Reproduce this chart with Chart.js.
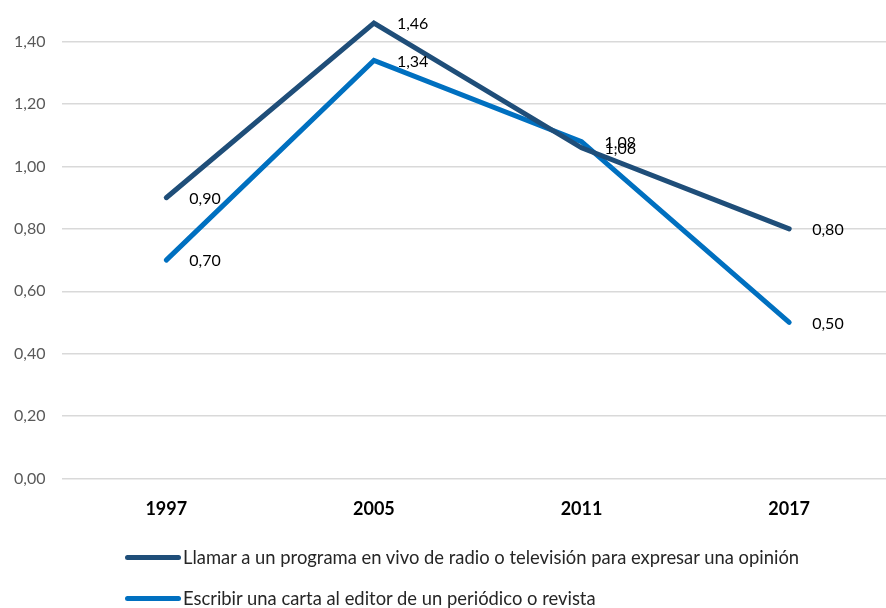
<!DOCTYPE html>
<html>
<head>
<meta charset="utf-8">
<script src="https://cdn.jsdelivr.net/npm/chart.js@4"></script>
<style>
  html, body { margin: 0; padding: 0; background: #fff; overflow: hidden; }
  #wrap { position: relative; width: 894px; height: 608px; overflow: hidden; }
  #lineChart { position: absolute; left: -3px; top: -16px; }
  #legend { position: absolute; left: 125px; top: 546px; font-family: Lato, sans-serif; font-size: 18.4px; color: #262626; }
  #legend div { display: flex; align-items: center; height: 22px; margin-bottom: 19px; white-space: nowrap; }
  #legend span.sw { display: inline-block; width: 56px; height: 5px; border-radius: 3px; margin-right: 2px; }
</style>
</head>
<body>
<div id="wrap">
  <canvas id="lineChart" width="896" height="628"></canvas>
  <div id="legend"></div>
</div>
<script>
// years and the two participation series
const years = ['1997', '2005', '2011', '2017'];
const llamarPrograma = [0.90, 1.46, 1.06, 0.80];
const escribirCarta = [0.70, 1.34, 1.08, 0.50];
const seriesNames = [
  'Llamar a un programa en vivo de radio o televisión para expresar una opinión',
  'Escribir una carta al editor de un periódico o revista'
];
const seriesColors = ['#1F4E79', '#0070C0'];

const fmt = v => v.toFixed(2).replace('.', ',');

// value labels to the right of each point
const pointLabels = {
  id: 'pointLabels',
  afterDatasetsDraw(chart) {
    const ctx = chart.ctx;
    ctx.save();
    ctx.font = '16px Lato, sans-serif';
    ctx.fillStyle = '#000';
    ctx.textAlign = 'left';
    ctx.textBaseline = 'middle';
    chart.data.datasets.forEach((ds, i) => {
      chart.getDatasetMeta(i).data.forEach((pt, j) => {
        ctx.fillText(fmt(ds.data[j]), pt.x + 23, pt.y + 1);
      });
    });
    ctx.restore();
  }
};

new Chart(document.getElementById('lineChart'), {
  type: 'line',
  data: {
    labels: years,
    datasets: [
      { label: seriesNames[0], data: llamarPrograma, borderColor: seriesColors[0] },
      { label: seriesNames[1], data: escribirCarta, borderColor: seriesColors[1] }
    ].map(d => Object.assign(d, {
      borderWidth: 5, pointRadius: 0, tension: 0, fill: false,
      borderCapStyle: 'round', borderJoinStyle: 'miter'
    }))
  },
  options: {
    responsive: false,
    animation: false,
    layout: { padding: { left: 0, right: 0, top: -16, bottom: 80 } },
    plugins: { legend: { display: false }, tooltip: { enabled: false } },
    scales: {
      x: {
        offset: true,
        grid: { display: false, offset: true },
        border: { display: false },
        ticks: { color: '#000', font: { family: 'Lato, sans-serif', size: 18, weight: 'bold' }, padding: 12 }
      },
      y: {
        min: 0, max: 1.5,
        afterBuildTicks: axis => { axis.ticks = axis.ticks.filter(t => Math.abs(t.value * 5 - Math.round(t.value * 5)) < 1e-6); },
        grid: { color: '#D9D9D9', lineWidth: 1.5, drawTicks: false },
        border: { display: false },
        ticks: { stepSize: 0.2, color: '#595959', padding: 17, font: { family: 'Lato, sans-serif', size: 16 }, callback: v => fmt(v) }
      }
    }
  },
  plugins: [pointLabels]
});

// legend stacked on the left, one line per series
const legend = document.getElementById('legend');
seriesNames.forEach((name, i) => {
  const row = document.createElement('div');
  row.innerHTML = '<span class="sw" style="background:' + seriesColors[i] + '"></span>' + name;
  legend.appendChild(row);
});
</script>
</body>
</html>
